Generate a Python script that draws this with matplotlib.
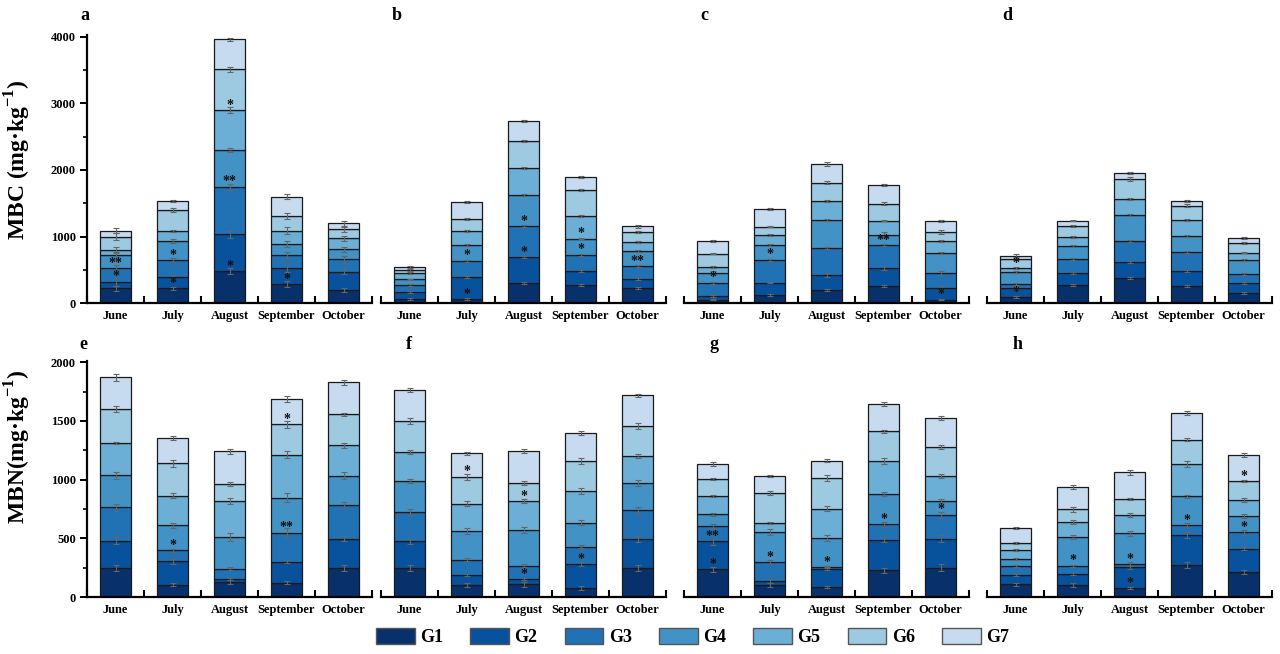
import numpy as np
import matplotlib
matplotlib.use("Agg")
import matplotlib.pyplot as plt
from matplotlib.patches import Patch

plt.rcParams['font.family'] = ['Liberation Serif', 'DejaVu Serif']
plt.rcParams['font.weight'] = 'bold'
plt.rcParams['mathtext.fontset'] = 'custom'
plt.rcParams['mathtext.rm'] = 'Liberation Serif:bold'
plt.rcParams['mathtext.bf'] = 'Liberation Serif:bold'

months = ['June', 'July', 'August', 'September', 'October']
groups = ['G1', 'G2', 'G3', 'G4', 'G5', 'G6', 'G7']
colors = ['#08306b', '#08519c', '#2171b5', '#4292c6', '#6baed6', '#9ecae1', '#c6dbef']

# MBC, rows = months, cols = G1..G7
mbc_a = [[225, 100, 200, 200, 75, 200, 90], [225, 175, 250, 285, 150, 315, 130],
         [485, 550, 715, 550, 600, 610, 450], [285, 240, 200, 165, 200, 220, 290],
         [200, 275, 185, 150, 165, 135, 90]]
mbc_b = [[65, 110, 100, 85, 90, 50, 40], [65, 335, 240, 240, 200, 180, 260],
         [300, 390, 470, 465, 400, 410, 300], [270, 215, 245, 240, 340, 390, 190],
         [225, 140, 195, 225, 135, 155, 80]]
mbc_c = [[55, 55, 200, 150, 85, 200, 185], [120, 190, 345, 220, 150, 125, 265],
         [200, 225, 405, 420, 285, 275, 280], [260, 270, 345, 150, 215, 255, 275],
         [55, 175, 225, 300, 185, 125, 170]]
mbc_d = [[95, 135, 60, 175, 65, 135, 50], [275, 175, 215, 195, 130, 170, 80],
         [380, 245, 310, 390, 240, 300, 90], [260, 225, 285, 245, 240, 210, 70],
         [155, 150, 135, 210, 110, 145, 70]]

# MBN
mbn_e = [[250, 231, 282, 273, 273, 290, 273], [105, 199, 94, 211, 253, 276, 216],
         [128, 28, 86, 268, 304, 148, 278], [122, 180, 247, 296, 367, 259, 219],
         [250, 248, 282, 253, 259, 264, 273]]
mbn_f = [[245, 230, 248, 264, 248, 264, 265], [100, 85, 134, 241, 234, 230, 199],
         [108, 43, 116, 302, 248, 153, 273], [77, 205, 148, 202, 273, 250, 242],
         [245, 247, 251, 230, 228, 256, 261]]
mbn_g = [[236, 239, 131, 97, 159, 145, 125], [100, 37, 159, 259, 74, 256, 145],
         [85, 157, 14, 245, 250, 262, 148], [228, 259, 133, 256, 285, 250, 233],
         [248, 247, 205, 117, 213, 247, 248]]
mbn_h = [[108, 77, 77, 62, 77, 60, 125], [100, 99, 66, 244, 131, 108, 191],
         [74, 179, 29, 261, 154, 139, 225], [270, 256, 86, 244, 279, 205, 228],
         [213, 200, 139, 136, 137, 162, 222]]

# error bars (same shape)
err_a = [[40, 60, 50, 40, 40, 50, 40], [25, 30, 30, 25, 15, 25, 15], [40, 50, 45, 35, 40, 40, 20],
         [45, 50, 50, 50, 50, 50, 35], [35, 40, 50, 40, 35, 40, 40]]
err_b = [[15, 15, 15, 10, 15, 15, 15], [10, 15, 15, 15, 15, 15, 15], [15, 15, 15, 15, 15, 15, 10],
         [15, 15, 15, 10, 10, 15, 15], [15, 20, 15, 10, 15, 15, 20]]
err_c = [[10, 15, 15, 20, 15, 10, 15], [15, 10, 15, 20, 15, 10, 20], [20, 25, 15, 15, 15, 20, 25],
         [20, 25, 15, 40, 10, 25, 15], [10, 30, 25, 15, 15, 30, 15]]
err_d = [[10, 15, 15, 15, 15, 15, 20], [15, 15, 15, 15, 15, 15, 10], [15, 15, 20, 15, 15, 30, 15],
         [15, 15, 15, 15, 15, 25, 20], [15, 15, 10, 15, 10, 15, 15]]
err_e = [[25, 30, 30, 30, 10, 25, 30], [10, 20, 15, 20, 20, 30, 15], [20, 10, 15, 35, 25, 15, 20],
         [15, 15, 35, 40, 30, 30, 25], [25, 25, 25, 30, 20, 15, 20]]
err_f = [[25, 20, 25, 20, 20, 25, 20], [15, 10, 15, 25, 20, 25, 15], [20, 10, 15, 25, 20, 15, 20],
         [20, 20, 15, 20, 25, 25, 15], [25, 25, 25, 25, 15, 25, 15]]
err_g = [[20, 30, 15, 15, 10, 10, 15], [15, 20, 15, 25, 10, 20, 10], [10, 15, 10, 25, 20, 25, 15],
         [20, 20, 20, 20, 25, 10, 20], [30, 30, 25, 15, 15, 15, 20]]
err_h = [[15, 10, 10, 10, 10, 10, 10], [15, 15, 10, 15, 20, 20, 15], [10, 15, 15, 20, 15, 10, 20],
         [25, 25, 15, 15, 25, 15, 20], [20, 15, 20, 15, 15, 10, 20]]

# significance marks: (month, group, text)
stars_a = [(0, 2, '*'), (0, 3, '**'), (1, 1, '*'), (1, 3, '*'), (2, 1, '*'), (2, 3, '**'), (2, 5, '*'), (3, 1, '*')]
stars_b = [(1, 1, '*'), (1, 3, '*'), (2, 2, '*'), (2, 3, '*'), (3, 3, '*'), (3, 4, '*'), (4, 3, '**')]
stars_c = [(0, 3, '*'), (1, 3, '*'), (3, 3, '**'), (4, 1, '*')]
stars_d = [(0, 1, '*'), (0, 5, '*')]
stars_e = [(1, 3, '*'), (3, 3, '**'), (3, 6, '*')]
stars_f = [(1, 6, '*'), (2, 2, '*'), (2, 5, '*'), (3, 2, '*')]
stars_g = [(0, 1, '*'), (0, 2, '**'), (1, 3, '*'), (2, 3, '*'), (3, 3, '*'), (4, 3, '*')]
stars_h = [(1, 3, '*'), (2, 1, '*'), (2, 3, '*'), (3, 3, '*'), (4, 3, '*'), (4, 6, '*')]

panels = [('a', mbc_a, err_a, stars_a), ('b', mbc_b, err_b, stars_b),
          ('c', mbc_c, err_c, stars_c), ('d', mbc_d, err_d, stars_d),
          ('e', mbn_e, err_e, stars_e), ('f', mbn_f, err_f, stars_f),
          ('g', mbn_g, err_g, stars_g), ('h', mbn_h, err_h, stars_h)]

W, H = 1280, 654
fig = plt.figure(figsize=(W / 100, H / 100), dpi=100)

lefts = [87, 381, 684, 987]
axw = 285
# baseline px, height px, ylim top, major step
rows = [(303.3, 268.0, 4020, 1000), (597.0, 236.0, 2010, 500)]
label_pos = [(85, 15), (397, 15), (704, 15), (1007, 15), (83, 345), (409, 345), (714, 345), (1018, 345)]

x = np.arange(len(months))
for i, (name, data, err, stars) in enumerate(panels):
    r, c = divmod(i, 4)
    base, hgt, ytop, ystep = rows[r]
    ax = fig.add_axes([lefts[c] / W, (H - base) / H, axw / W, hgt / H])
    d = np.array(data, dtype=float)
    e = np.array(err, dtype=float)
    cum = np.zeros(len(months))
    bottoms = []
    for gi in range(len(groups)):
        bottoms.append(cum.copy())
        ax.bar(x, d[:, gi], bottom=cum, width=0.56, color=colors[gi],
               edgecolor='#1a1a1a', linewidth=0.9, zorder=2)
        ax.errorbar(x, cum + d[:, gi], yerr=e[:, gi], fmt='none', ecolor='#666666',
                    elinewidth=0.8, capsize=2.5, capthick=0.8, zorder=3)
        cum = cum + d[:, gi]
    for mi, gi, txt in stars:
        ax.annotate(txt, (mi, bottoms[gi][mi]), xytext=(0, 1), textcoords='offset points',
                    ha='center', va='baseline', fontsize=10, color='#111111', zorder=4)

    ax.set_xlim(-0.5, 4.5)
    ax.set_ylim(0, ytop)
    ax.set_xticks(x)
    ax.set_xticklabels(months, fontsize=9, fontweight='bold')
    ax.set_xticks(np.arange(-0.5, 5, 1), minor=True)
    ax.tick_params(axis='x', which='major', length=0, pad=5)
    ax.tick_params(axis='x', which='minor', direction='in', length=5, width=1.5)
    ax.spines['top'].set_visible(False)
    ax.spines['right'].set_visible(False)
    ax.spines['bottom'].set_linewidth(1.6)
    if c == 0:
        ax.spines['left'].set_linewidth(1.6)
        ax.set_yticks(np.arange(0, ytop, ystep))
        ax.set_yticks(np.arange(ystep / 2, ytop, ystep), minor=True)
        ax.tick_params(axis='y', which='major', direction='out', length=5, width=1.4, labelsize=9, pad=3)
        ax.tick_params(axis='y', which='minor', direction='out', length=3, width=1.2)
        for lab in ax.get_yticklabels():
            lab.set_fontweight('bold')
        if r == 0:
            ax.set_ylabel('MBC (mg·kg$^{-1}$)', fontsize=17, fontweight='bold')
            ax.yaxis.set_label_coords(-0.19, 0.535)
        else:
            ax.set_ylabel('MBN(mg·kg$^{-1}$)', fontsize=17, fontweight='bold')
            ax.yaxis.set_label_coords(-0.19, 0.636)
    else:
        ax.spines['left'].set_visible(False)
        ax.tick_params(axis='y', which='both', left=False, labelleft=False)

    lx, ly = label_pos[i]
    fig.text(lx / W, 1 - ly / H, name, fontsize=13, fontweight='bold', ha='center', va='center')

handles = [Patch(facecolor=col, edgecolor='#555555', linewidth=1.0, label=g) for col, g in zip(colors, groups)]
fig.legend(handles=handles, loc='center', bbox_to_anchor=(0.541, 0.026), ncol=7, frameon=False,
           prop={'size': 13, 'weight': 'bold'}, handlelength=2.15, handleheight=1.05,
           handletextpad=0.3, columnspacing=1.5, borderaxespad=0)

fig.savefig('out.png', dpi=100)
